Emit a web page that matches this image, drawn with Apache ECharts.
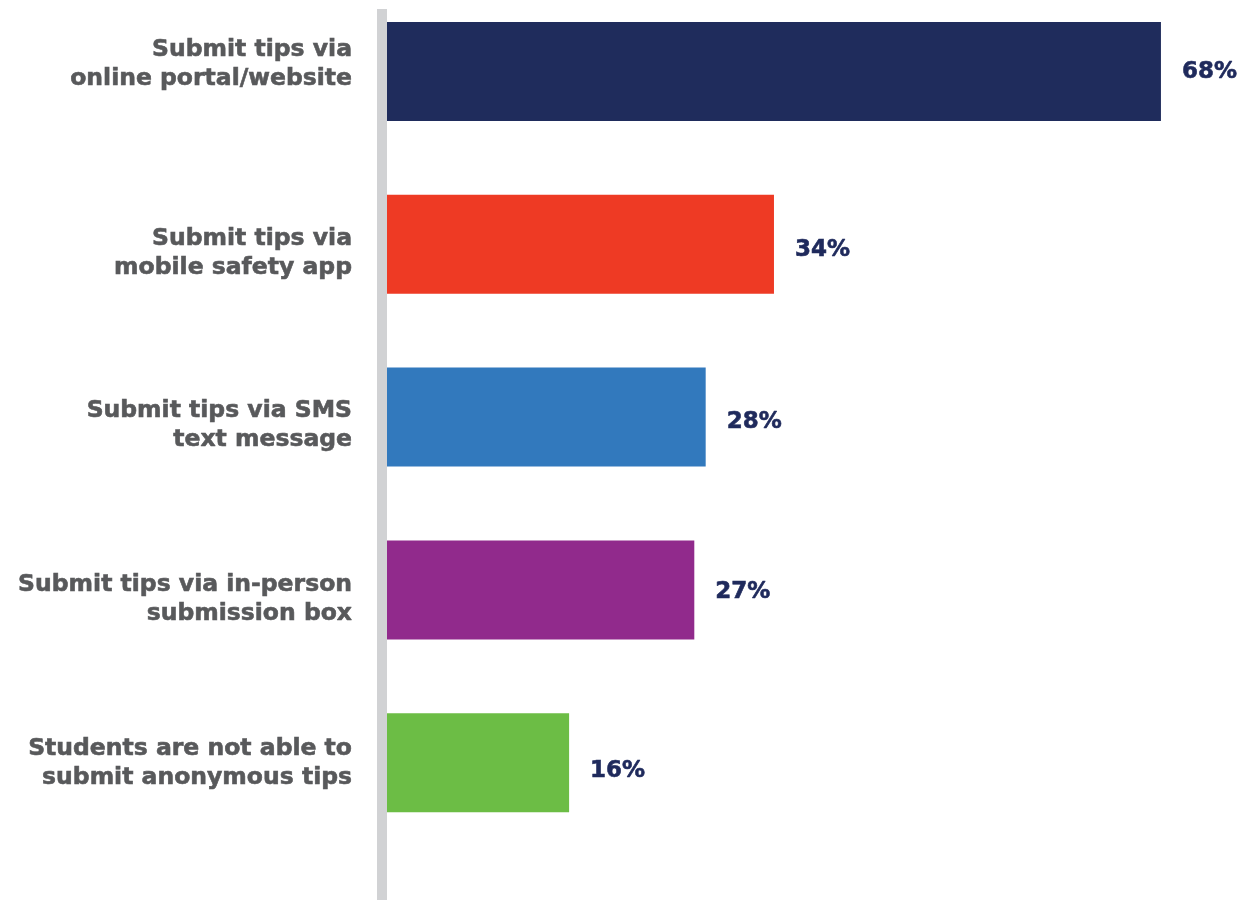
<!DOCTYPE html>
<html>
<head>
<meta charset="utf-8">
<script src="https://cdn.jsdelivr.net/npm/echarts@6/dist/echarts.min.js"></script>
<style>
  html, body { margin: 0; padding: 0; background: #ffffff; }
  #chart { width: 1252px; height: 900px; }
</style>
</head>
<body>
<div id="chart"></div>
<script>
// Ways students can submit anonymous tips (share of respondents, %)
const categories = [
  'Submit tips via\nonline portal/website',
  'Submit tips via\nmobile safety app',
  'Submit tips via SMS\ntext message',
  'Submit tips via in-person\nsubmission box',
  'Students are not able to\nsubmit anonymous tips'
];
const values = [68, 34, 28, 27, 16];
const barColors = ['#1f2c5c', '#ee3a24', '#3279bd', '#912a8c', '#6cbd45'];

const chart = echarts.init(document.getElementById('chart'));
const FONT = '"DejaVu Sans", "Open Sans", sans-serif';
const LABEL_GRAY = '#58595b';
const VALUE_NAVY = '#1f2a5c';

// vertical nudge of each category text block, px (negative = up)
const labelShift = [-7, 9, 8, 9, 1];
// vertical nudge of each value label, px
const valueShift = [1, 6, 5, 2, 8];

const txt = {
  color: LABEL_GRAY,
  fontFamily: FONT,
  fontWeight: 'bold',
  fontSize: 23.5,
  lineHeight: 29,
  align: 'right',
  textBorderColor: LABEL_GRAY,
  textBorderWidth: 0.6
};

function categoryLabel(value) {
  const i = categories.indexOf(value);
  const s = labelShift[i] || 0;
  const lines = value.split('\n').map(l => '{t|' + l + '}');
  if (s < 0) lines.push('{g' + i + '| }');
  if (s > 0) lines.unshift('{g' + i + '| }');
  return lines.join('\n');
}

const rich = { t: txt };
labelShift.forEach((s, i) => {
  rich['g' + i] = { fontSize: 1, lineHeight: Math.abs(s) * 2, align: 'right' };
});

chart.setOption({
  animation: false,
  backgroundColor: '#ffffff',
  graphic: [{
    type: 'rect',
    left: 377,
    top: 9,
    shape: { width: 10, height: 891 },
    style: { fill: '#d1d2d4' },
    z: 0
  }],
  grid: { left: 387, right: 0, top: 71.5, height: 691.2, containLabel: false },
  xAxis: {
    type: 'value',
    min: 0,
    max: 76,
    show: false,
    splitLine: { show: false }
  },
  yAxis: {
    type: 'category',
    data: categories,
    inverse: true,
    boundaryGap: false,
    axisLine: { show: false },
    axisTick: { show: false },
    splitLine: { show: false },
    axisLabel: {
      margin: 35,
      align: 'right',
      formatter: categoryLabel,
      rich: rich
    }
  },
  series: [{
    type: 'bar',
    data: values.map((v, i) => ({
      value: v,
      itemStyle: { color: barColors[i] },
      label: { offset: [0, valueShift[i]] }
    })),
    barWidth: 99,
    label: {
      show: true,
      position: 'right',
      distance: 21,
      formatter: '{c}%',
      color: VALUE_NAVY,
      fontFamily: FONT,
      fontWeight: 'bold',
      fontSize: 23,
      textBorderColor: VALUE_NAVY,
      textBorderWidth: 0.6
    },
    z: 2
  }]
});
</script>
</body>
</html>
